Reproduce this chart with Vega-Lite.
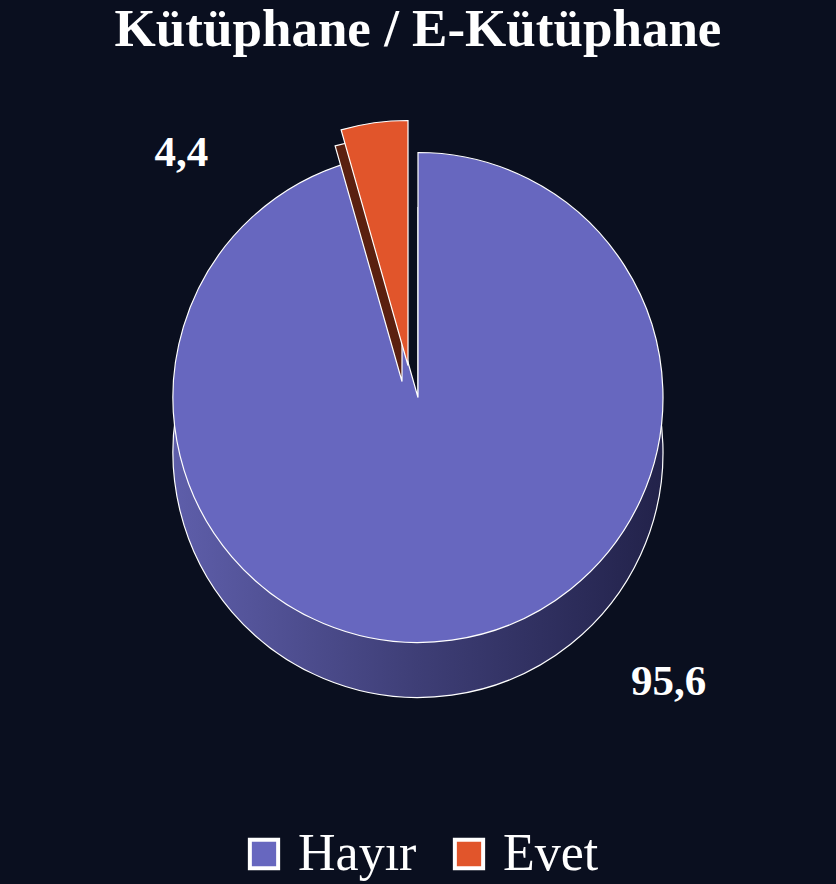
{
  "$schema": "https://vega.github.io/schema/vega-lite/v6.json",
  "width": 836,
  "height": 884,
  "autosize": {"type": "fit", "contains": "padding"},
  "padding": {"top": 4, "bottom": 4, "left": 0, "right": 0},
  "background": "#0a0f1f",
  "title": {
    "text": "Kütüphane / E-Kütüphane",
    "font": "Liberation Serif",
    "fontSize": 53,
    "fontWeight": "bold",
    "color": "#ffffff",
    "anchor": "middle",
    "offset": 10
  },
  "data": {
    "values": [
      {"kategori": "Hayır", "deger": 95.6, "etiket": "95,6"},
      {"kategori": "Evet", "deger": 4.4, "etiket": "4,4"}
    ]
  },
  "encoding": {
    "theta": {"field": "deger", "type": "quantitative", "stack": true},
    "detail": {"field": "kategori", "type": "nominal"},
    "order": {"field": "deger", "type": "quantitative", "sort": "descending"}
  },
  "layer": [
    {
      "mark": {
        "type": "arc",
        "radius": 245,
        "yOffset": 55,
        "stroke": "#ffffff",
        "strokeWidth": 1.2,
        "color": {
          "gradient": "linear",
          "x1": 0, "y1": 0, "x2": 1, "y2": 0,
          "stops": [
            {"offset": 0, "color": "#5e5eaa"},
            {"offset": 0.5, "color": "#3e3e76"},
            {"offset": 1, "color": "#22224a"}
          ]
        }
      },
      "encoding": {
        "opacity": {"condition": {"test": "datum.kategori === 'Hayır'", "value": 1}, "value": 0}
      }
    },
    {
      "mark": {"type": "arc", "radius": 245, "stroke": "#ffffff", "strokeWidth": 1.2},
      "encoding": {
        "color": {
          "field": "kategori",
          "type": "nominal",
          "scale": {"domain": ["Hayır", "Evet"], "range": ["#6767bf", "#e1552b"]},
          "legend": {"title": null}
        },
        "opacity": {"condition": {"test": "datum.kategori === 'Hayır'", "value": 1}, "value": 0}
      }
    },
    {
      "mark": {
        "type": "arc",
        "radius": 245,
        "xOffset": -16,
        "yOffset": -16,
        "stroke": "#ffffff",
        "strokeWidth": 1.2,
        "color": "#5a2010"
      },
      "encoding": {
        "opacity": {"condition": {"test": "datum.kategori === 'Evet'", "value": 1}, "value": 0}
      }
    },
    {
      "mark": {"type": "arc", "radius": 245, "xOffset": -10, "yOffset": -32, "stroke": "#ffffff", "strokeWidth": 1.2},
      "encoding": {
        "color": {"field": "kategori", "type": "nominal"},
        "opacity": {"condition": {"test": "datum.kategori === 'Evet'", "value": 1}, "value": 0}
      }
    },
    {
      "mark": {
        "type": "text",
        "radius": 265,
        "xOffset": -200,
        "yOffset": 18,
        "font": "Liberation Serif",
        "fontSize": 43,
        "fontWeight": "bold",
        "color": "#ffffff"
      },
      "encoding": {
        "text": {"field": "etiket", "type": "nominal"},
        "opacity": {"condition": {"test": "datum.kategori === 'Evet'", "value": 1}, "value": 0}
      }
    },
    {
      "mark": {
        "type": "text",
        "radius": 265,
        "xOffset": 214,
        "yOffset": 22,
        "font": "Liberation Serif",
        "fontSize": 43,
        "fontWeight": "bold",
        "color": "#ffffff"
      },
      "encoding": {
        "text": {"field": "etiket", "type": "nominal"},
        "opacity": {"condition": {"test": "datum.kategori === 'Hayır'", "value": 1}, "value": 0}
      }
    }
  ],
  "config": {
    "view": {"stroke": null},
    "legend": {
      "orient": "bottom",
      "direction": "horizontal",
      "offset": 100,
      "layout": {"bottom": {"anchor": "middle"}},
      "labelFont": "Liberation Serif",
      "labelFontSize": 52,
      "labelColor": "#ffffff",
      "labelLimit": 400,
      "symbolType": "square",
      "symbolSize": 800,
      "symbolStrokeColor": "#ffffff",
      "symbolStrokeWidth": 4,
      "symbolOpacity": 1,
      "columnPadding": 26,
      "labelOffset": 8
    }
  }
}
